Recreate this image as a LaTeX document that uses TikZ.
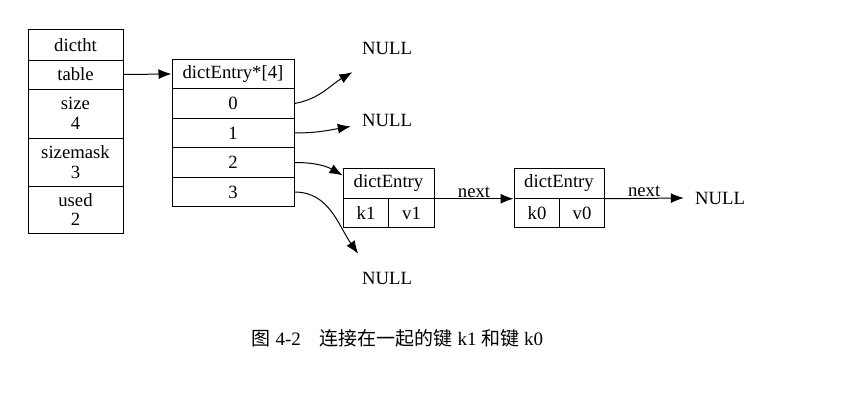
\documentclass[tikz,border=0pt]{standalone}
\usepackage{fontspec}
\setmainfont{Liberation Serif}
\newfontfamily\cjk{Noto Sans CJK SC}
\usetikzlibrary{arrows.meta}
\tikzset{
  cell/.style={draw, line width=1pt, inner sep=0pt, align=center,
    font=\fontsize{18.7}{19.5}\selectfont},
  arrcell/.style={cell, minimum width=122pt, minimum height=29.5pt},
  entcell/.style={cell, minimum height=29.5pt},
  nullbox/.style={minimum width=72pt, minimum height=48pt, inner sep=0pt,
    font=\fontsize{18.7}{19.5}\selectfont},
  ptr/.style={-{Latex[length=13pt,width=10pt]}, line width=1pt},
  lbl/.style={font=\fontsize{18.7}{19.5}\selectfont, inner sep=1pt}
}

\begin{document}
\begin{tikzpicture}[x=1pt,y=-1pt]
        \useasboundingbox (0,0) rectangle (842,404);
        % dictht
        \node[cell,minimum width=95pt,minimum height=30pt] (dictht) at (75.5,45) {dictht};
        \node[cell,minimum width=95pt,minimum height=29pt] (table) at (75.5,74.5) {table};
        \node[cell,minimum width=95pt,minimum height=49pt] (size) at (75.5,113.5) {size\\4};
        \node[cell,minimum width=95pt,minimum height=48pt] (sizemask) at (75.5,162) {sizemask\\3};
        \node[cell,minimum width=95pt,minimum height=47pt] (used) at (75.5,209.5) {used\\2};
        % table array
        \node[arrcell] (arrh) at (233,74) {dictEntry*[4]};
        \foreach \i in {0,...,3}
            \node[arrcell] (arr\i) at (233,{103.5+29.5*\i}) {\i};
        % entries
        \node[entcell,minimum width=91pt] (de1h) at (388.5,183.5) {dictEntry};
        \node[entcell,minimum width=45.5pt] (k1) at (366,213) {k1};
        \node[entcell,minimum width=45.5pt] (v1) at (411.5,213) {v1};
        \node[entcell,minimum width=90pt] (de2h) at (559,183.5) {dictEntry};
        \node[entcell,minimum width=45pt] (k0) at (537,213) {k0};
        \node[entcell,minimum width=45pt] (v0) at (582,213) {v0};
        % NULLs
        \node[nullbox] (null0) at (387,48) {NULL};
        \node[nullbox] (null1) at (387,120) {NULL};
        \node[nullbox] (null3) at (387,278) {NULL};
        \node[nullbox] (null4) at (720,198) {NULL};
        % pointers
        \draw[ptr] (table.east) -- (arrh.west);
        \draw[ptr] (arr0.east) to[out=10,in=210] (null0.215);
        \draw[ptr] (arr1.east) to[out=0,in=190] (null1.190);
        \draw[ptr] (arr2.east) to[out=0,in=150] (de1h.170);
        \draw[ptr] (arr3.east) to[out=0,in=125] (null3.140);
        \draw[ptr] (de1h.south east) -- node[lbl,above]{next} (de2h.south west);
        \draw[ptr] (de2h.south east) -- node[lbl,above]{next} (null4.west);
        \node[font=\fontsize{19}{22}\selectfont] (caption) at (397.5,338)
            {{\cjk 图} 4-2{\cjk\quad 连接在一起的键} k1 {\cjk 和键} k0};
\end{tikzpicture}
\end{document}
